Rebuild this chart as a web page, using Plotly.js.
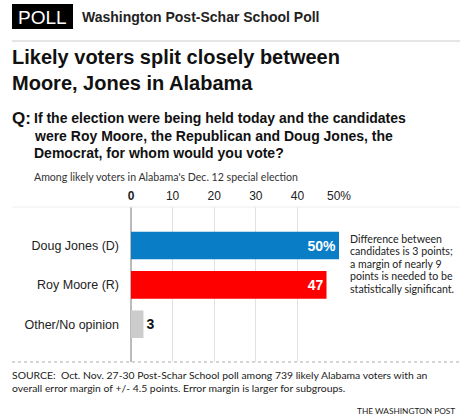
<!DOCTYPE html>
<html>
<head>
<meta charset="utf-8">
<script src="https://cdn.plot.ly/plotly-3.0.1.min.js"></script>
<style>html,body{margin:0;padding:0;background:#fff;}#chart{width:460px;height:419px;}</style>
</head>
<body>
<div id="chart"></div>
<script>
const categories = ["Doug Jones (D)", "Roy Moore (R)", "Other/No opinion"];
const values = [50, 47, 3];
const valueLabels = ["50%", "47", "3"];
const barColors = ["#0a7dc7", "#ff0000", "#cccccc"];
const tickValues = [0, 10, 20, 30, 40, 50];
const tickLabels = ["<b>0</b>", "10", "20", "30", "40", "50%"];
const noteLines = ["Difference between", "candidates is 3 points;", "a margin of nearly 9", "points is needed to be", "statistically significant."];
const titleLines = ["Likely voters split closely between", "Moore, Jones in Alabama"];
const questionLines = ["If the election were being held today and the candidates", "were Roy Moore, the Republican and Doug Jones, the", "Democrat, for whom would you vote?"];
const sourceLines = ["SOURCE:  Oct. Nov. 27-30 Post-Schar School poll among 739 likely Alabama voters with an", "overall error margin of +/- 4.5 points. Error margin is larger for subgroups."];

const W = 460, H = 419;
const M = {l: 131, r: 121, t: 207, b: 57};
const PW = W - M.l - M.r, PH = H - M.t - M.b;
const px = x => (x - M.l) / PW;
const py = y => 1 - (y - M.t) / PH;

const FONT = "Liberation Sans, Arial, sans-serif";
const BODY = "Lato, Liberation Sans, sans-serif";
const ann = [];
function txt(text, x, y, size, opts) {
  ann.push(Object.assign({
    text: text, xref: "paper", yref: "paper", x: px(x), y: py(y),
    xanchor: "left", yanchor: "middle", showarrow: false,
    font: {family: FONT, size: size, color: "#222"}
  }, opts || {}));
}
txt("POLL", 42.5, 17, 19, {xanchor: "center", font: {family: FONT, size: 19, color: "#fff"}});
txt("<b>Washington Post-Schar School Poll</b>", 80, 17, 14);
titleLines.forEach((t, i) => txt("<b>" + t + "</b>", 10, 57 + i * 26, 20, {font: {family: FONT, size: 20, color: "#111"}}));
txt("<b>Q:</b>", 10, 118, 17, {font: {family: FONT, size: 17, color: "#111"}});
questionLines.forEach((t, i) => txt("<b>" + t + "</b>", 32, 118 + i * 17.5, 14, {font: {family: FONT, size: 14, color: "#111"}}));
txt("Among likely voters in Alabama's Dec. 12 special election", 32, 177, 10.6, {font: {family: BODY, size: 10.6, color: "#333"}});
noteLines.forEach((t, i) => txt(t, 348, 239 + i * 12.4, 10.6, {font: {family: BODY, size: 10.6, color: "#222"}}));
sourceLines.forEach((t, i) => txt(t, 10, 375 + i * 13, 10.4, {font: {family: BODY, size: 10.4, color: "#222"}}));
txt("THE WASHINGTON POST", 457, 411, 8.3, {xanchor: "right", font: {family: BODY, size: 8.3, color: "#222"}});

const shapes = [
  {type: "rect", xref: "paper", yref: "paper", x0: px(12), x1: px(73), y0: py(29), y1: py(4), fillcolor: "#000", line: {width: 0}, layer: "below"},
  {type: "line", xref: "paper", yref: "paper", x0: px(12), x1: px(460), y0: py(41), y1: py(41), line: {color: "#cccccc", width: 1}},
  {type: "line", xref: "paper", yref: "paper", x0: px(12), x1: px(460), y0: py(207), y1: py(207), line: {color: "#eeeeee", width: 1}},
  {type: "line", xref: "paper", yref: "paper", x0: px(12), x1: px(460), y0: py(362), y1: py(362), line: {color: "#aaaaaa", width: 1, dash: "dot"}}
];

const trace = {
  type: "bar", orientation: "h",
  y: categories, x: values,
  marker: {color: barColors, line: {width: 0}},
  width: 0.7,
  text: valueLabels, texttemplate: "<b>%{text}</b>",
  textposition: values.map(v => v > 10 ? "inside" : "outside"),
  insidetextanchor: "end",
  insidetextfont: {family: FONT, size: 14, color: "#fff"},
  outsidetextfont: {family: FONT, size: 14, color: "#111"},
  constraintext: "none",
  cliponaxis: false,
  hoverinfo: "none"
};

const layout = {
  width: W, height: H,
  margin: M,
  paper_bgcolor: "#fff", plot_bgcolor: "#fff",
  showlegend: false,
  xaxis: {
    range: [0, 50], side: "top", tickvals: tickValues, ticktext: tickLabels,
    showgrid: true, gridcolor: "#e2e2e2", gridwidth: 1,
    zeroline: true, zerolinecolor: "#bbbbbb", zerolinewidth: 2,
    showline: false, ticks: "", ticklabelstandoff: 4,
    tickfont: {family: FONT, size: 12, color: "#222"}, fixedrange: true
  },
  yaxis: {
    autorange: false, range: [2.96, -0.98], type: "category",
    showgrid: false, zeroline: false, showline: false, ticks: "",
    ticklabelstandoff: 11,
    tickfont: {family: FONT, size: 12.5, color: "#222"}, fixedrange: true
  },
  annotations: ann,
  shapes: shapes
};

Plotly.newPlot("chart", [trace], layout, {staticPlot: true, displayModeBar: false});
</script>
</body>
</html>
